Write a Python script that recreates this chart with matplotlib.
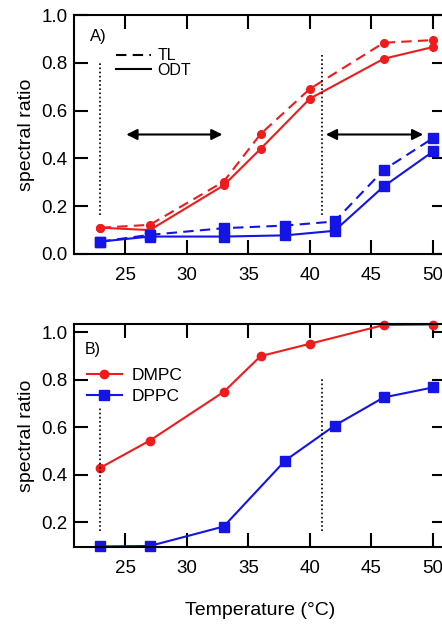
import numpy as np
import matplotlib
matplotlib.use("Agg")
import matplotlib.pyplot as plt
from matplotlib.lines import Line2D

plt.rcParams['font.family'] = ['Liberation Sans', 'DejaVu Sans']
plt.rcParams['font.size'] = 13.5

RED = '#ee1c1c'
BLUE = '#1414e6'

# panel A: thermal lensing (TL) vs ODT
temp_dmpc_a = [23, 27, 33, 36, 40, 46, 50]
dmpc_odt = [0.11, 0.10, 0.287, 0.44, 0.65, 0.817, 0.866]
dmpc_tl = [0.11, 0.122, 0.303, 0.502, 0.691, 0.884, 0.895]
temp_dppc_a = [23, 27, 33, 38, 42, 46, 50]
dppc_odt = [0.052, 0.073, 0.073, 0.078, 0.097, 0.283, 0.429]
dppc_tl = [0.052, 0.08, 0.108, 0.119, 0.136, 0.352, 0.485]

# panel B
temp_dmpc_b = [23, 27, 33, 36, 40, 46, 50]
dmpc_b = [0.43, 0.544, 0.749, 0.90, 0.952, 1.031, 1.033]
temp_dppc_b = [23, 27, 33, 38, 42, 46, 50]
dppc_b = [0.098, 0.10, 0.182, 0.46, 0.607, 0.726, 0.768]

# transition markers (x, ymin, ymax)
vlines_a = [(23, 0.164, 0.80), (41, 0.164, 0.842)]
vlines_b = [(23, 0.163, 0.687), (41, 0.163, 0.806)]
arrows_a = [(25.1, 32.9, 0.5), (41.3, 49.2, 0.5)]

xticks = [25, 30, 35, 40, 45, 50]

fig = plt.figure(figsize=(4.42, 6.25), dpi=100)
ax1 = fig.add_axes([0.1674, 0.5936, 0.8416, 0.3824])
ax2 = fig.add_axes([0.1674, 0.1253, 0.8416, 0.3558])


def style(ax):
    for s in ax.spines.values():
        s.set_linewidth(1.5)
    ax.tick_params(direction='in', length=10, width=1.5, top=True, right=True,
                   labelsize=13.5)
    ax.tick_params(axis='x', pad=9.5)
    ax.tick_params(axis='y', pad=4.5)
    ax.set_xticks(xticks)
    ax.set_xlim(20.85, 51.05)
    ax.set_ylabel('spectral ratio', fontsize=14)
    ax.yaxis.set_label_coords(-0.105, 0.5)


dash = (0, (5, 3))

# ---- panel A
ax1.plot(temp_dmpc_a, dmpc_tl, color=RED, ls=dash, lw=1.5, marker='o', ms=5.5, clip_on=False)
ax1.plot(temp_dmpc_a, dmpc_odt, color=RED, ls='-', lw=1.5, marker='o', ms=5.5, clip_on=False)
ax1.plot(temp_dppc_a, dppc_tl, color=BLUE, ls=dash, lw=1.5, marker='s', ms=6.5, clip_on=False)
ax1.plot(temp_dppc_a, dppc_odt, color=BLUE, ls='-', lw=1.5, marker='s', ms=6.5, clip_on=False)
for x, y0, y1 in vlines_a:
    ax1.vlines(x, y0, y1, colors='k', linestyles=(0, (1, 1.5)), lw=1.2)
for x0, x1, y in arrows_a:
    ax1.annotate('', xy=(x1, y), xytext=(x0, y),
                 arrowprops=dict(arrowstyle='<|-|>', color='k', lw=1.5,
                                 mutation_scale=16, shrinkA=0, shrinkB=0))
ax1.set_ylim(0, 1.0)
ax1.set_yticks(np.arange(0, 1.01, 0.2))
ax1.set_yticklabels(['0.0', '0.2', '0.4', '0.6', '0.8', '1.0'])
style(ax1)
ax1.text(0.043, 0.91, 'A)', transform=ax1.transAxes, va='center', fontsize=12)
hA = [Line2D([], [], color='k', ls=dash, lw=1.5),
      Line2D([], [], color='k', ls='-', lw=1.5)]
ax1.legend(hA, ['TL', 'ODT'], loc='upper left', bbox_to_anchor=(0.113, 0.86),
           frameon=False, borderpad=0, borderaxespad=0, handlelength=2.2,
           handletextpad=0.4, labelspacing=-0.05, fontsize=11.5)

# ---- panel B
ax2.plot(temp_dmpc_b, dmpc_b, color=RED, lw=1.5, marker='o', ms=6, clip_on=False, label='DMPC')
ax2.plot(temp_dppc_b, dppc_b, color=BLUE, lw=1.5, marker='s', ms=7, clip_on=False, label='DPPC')
for x, y0, y1 in vlines_b:
    ax2.vlines(x, y0, y1, colors='k', linestyles=(0, (1, 1.5)), lw=1.2)
ax2.set_ylim(0.097, 1.034)
ax2.set_yticks([0.2, 0.4, 0.6, 0.8, 1.0])
ax2.set_yticklabels(['0.2', '0.4', '0.6', '0.8', '1.0'])
style(ax2)
ax2.text(0.03, 0.886, 'B)', transform=ax2.transAxes, va='center', fontsize=11.5)
ax2.legend(loc='upper left', bbox_to_anchor=(0.035, 0.806), frameon=False,
           borderpad=0, borderaxespad=0, handlelength=2.0, handletextpad=0.57,
           labelspacing=0.38, fontsize=12.5, numpoints=1)
ax2.set_xlabel('Temperature (°C)', fontsize=14)
ax2.xaxis.set_label_coords(0.5, -0.25)

fig.savefig('out.png', dpi=100)
